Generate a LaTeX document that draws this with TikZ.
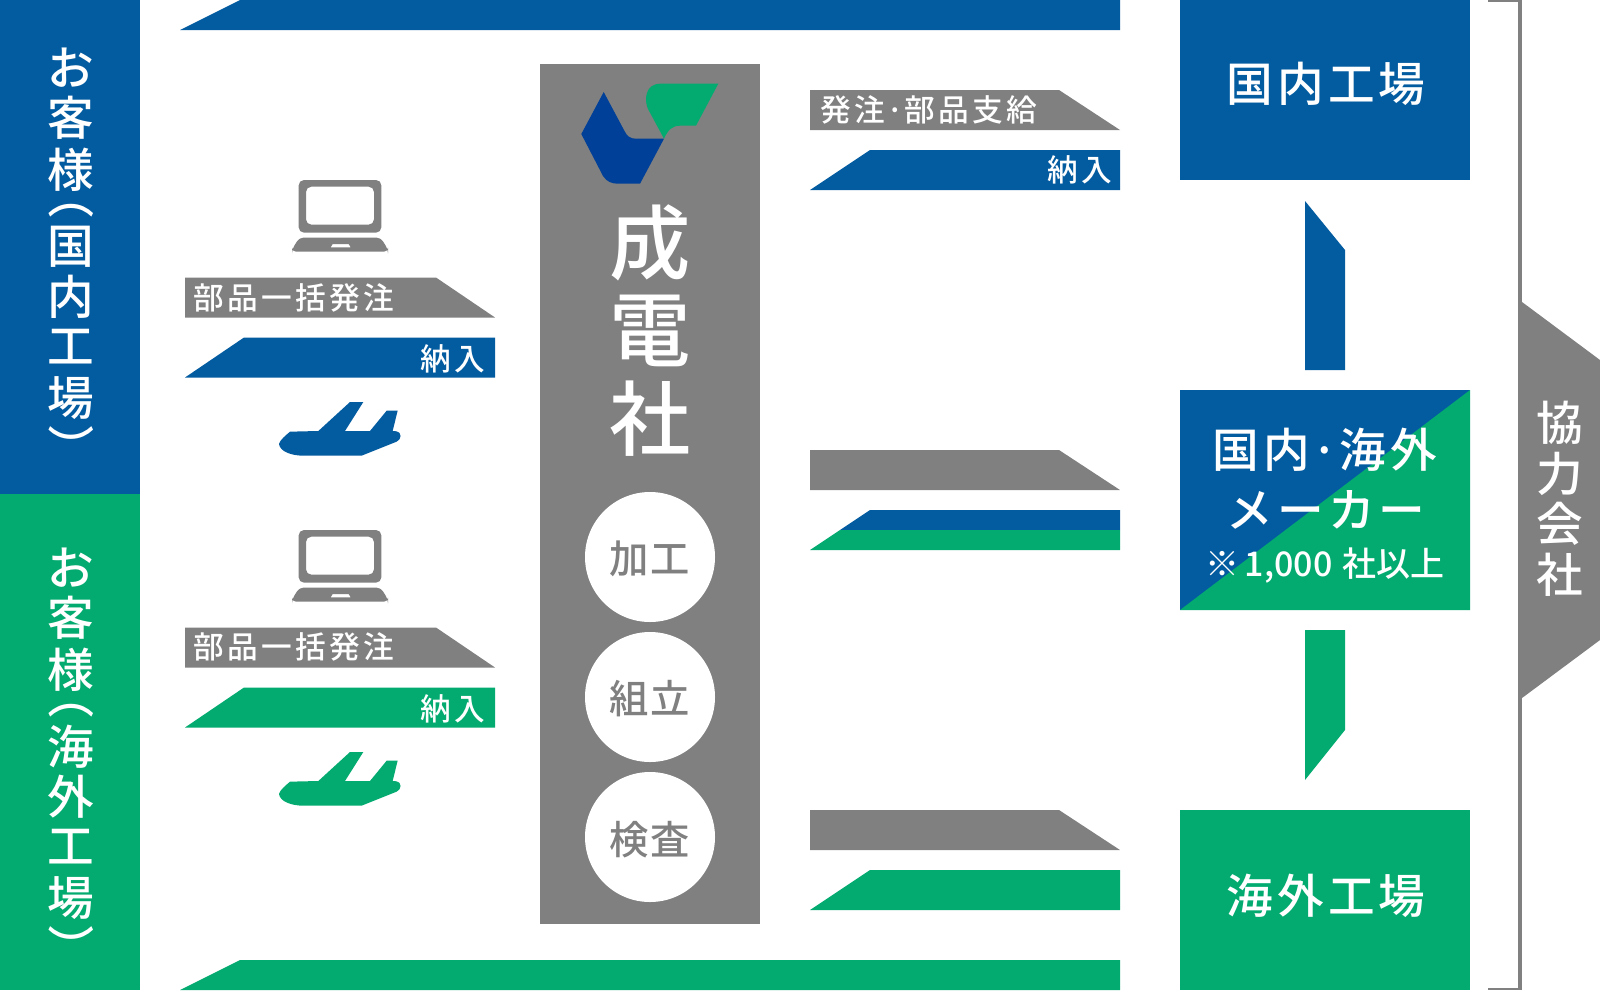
\documentclass[tikz,border=0pt]{standalone}
\usepackage{fontspec}
\setmainfont{Noto Sans CJK JP Medium}
\newfontfamily\jp{Noto Sans CJK JP Medium}
\definecolor{cblue}{HTML}{035BA0}
\definecolor{cgreen}{HTML}{03AB70}
\definecolor{cgrey}{HTML}{808080}
\definecolor{lblue}{HTML}{004098}
\tikzset{
  bluefill/.style={fill=cblue,draw=none},
  greenfill/.style={fill=cgreen,draw=none},
  greyfill/.style={fill=cgrey,draw=none},
  wt/.style={text=white,inner sep=0pt,font=\jp\fontsize{35}{35}\selectfont},
  bigt/.style={text=white,inner sep=0pt,font=\jp\fontsize{61}{61}\selectfont},
  bart/.style={text=white,inner sep=0pt,font=\jp\fontsize{23}{23}\selectfont\addfontfeature{LetterSpace=11}},
  boxt/.style={text=white,inner sep=0pt,font=\jp\fontsize{35}{35}\selectfont\addfontfeature{LetterSpace=9}},
  circt/.style={text=cgrey,inner sep=0pt,font=\jp\fontsize{29.5}{29.5}\selectfont\addfontfeature{LetterSpace=5}},
  proc/.style={circle,fill=white,draw=none,minimum size=97.5pt,inner sep=0pt}
}
\newcommand{\laptop}[2]{%
  \begin{scope}[shift={(#1,#2)},scale=1/3]
    \fill[cgrey,even odd rule,rounded corners=4pt] (386,30) rectangle (634,188) (408,50) rectangle (612,164);
    \fill[cgrey,even odd rule] [rounded corners=3pt] (366,245) -- (366,238) -- (388,203) -- (632,203) -- (654,238) -- (654,245) -- cycle
      [sharp corners] (482,232) -- (488,222) -- (536,222) -- (542,232) -- cycle;
  \end{scope}}
\newcommand{\plane}[3]{%
  \begin{scope}[shift={(#1,#2)},scale=1/3]
    \fill[#3] (327,822) .. controls (330,810) and (345,798) .. (360,785) -- (445,783) -- (540,696) -- (580,696) -- (525,783) -- (600,783) -- (650,722) -- (683,722) -- (668,783) -- (680,784) .. controls (695,786) and (696,808) .. (680,815) -- (575,857) -- (400,857) .. controls (365,857) and (330,845) .. (327,822) -- cycle;
  \end{scope}}
\begin{document}
\begin{tikzpicture}[x=0.75pt,y=-0.75pt]
\useasboundingbox (0,0) rectangle (1600,990);
% left columns
\fill[bluefill] (0,0) rectangle (140,494);
\fill[greenfill] (0,494) rectangle (140,990);
\foreach \c/\y/\n in {お/68/a,客/118/b,様/170/c,国/247/e,内/297/f,工/347/g,場/398/h}
  \node[wt] (bl\n) at (71,\y) {\c};
\node[wt,rotate=-90] (blp) at (71,196) {（};
\node[wt,rotate=-90] (blq) at (71,447.5) {）};
\foreach \c/\y/\n in {お/568/a,客/618/b,様/670/c,海/747/e,外/797/f,工/847/g,場/898/h}
  \node[wt] (gl\n) at (71,\y) {\c};
\node[wt,rotate=-90] (glp) at (71,696) {（};
\node[wt,rotate=-90] (glq) at (71,947.5) {）};
% top and bottom bars
\fill[bluefill] (180,30) -- (240,0) -- (1120,0) -- (1120,30) -- cycle;
\fill[greenfill] (180,990) -- (240,960) -- (1120,960) -- (1120,990) -- cycle;
% left group 1
\laptop{170}{170}
\fill[greyfill] (185,277.5) -- (436,277.5) -- (495,317.5) -- (185,317.5) -- cycle;
\node[bart,anchor=west] (o1) at (193,298) {部品一括発注};
\fill[bluefill] (185,377.5) -- (244,337.5) -- (495,337.5) -- (495,377.5) -- cycle;
\node[bart,anchor=east] (n1) at (485,359) {納入};
\plane{170}{170}{cblue}
% left group 2
\laptop{170}{520}
\fill[greyfill] (185,627.5) -- (436,627.5) -- (495,667.5) -- (185,667.5) -- cycle;
\node[bart,anchor=west] (o2) at (193,647) {部品一括発注};
\fill[greenfill] (185,727.5) -- (244,687.5) -- (495,687.5) -- (495,727.5) -- cycle;
\node[bart,anchor=east] (n2) at (485,709) {納入};
\plane{170}{520}{cgreen}
% centre column
\fill[greyfill] (540,64) rectangle (760,924);
\fill[lblue] (603.7,92) -- (581.3,134) -- (603,176) .. controls (607,182) and (612,183.7) .. (618,183.7) -- (640,183.7) -- (664,138.7) -- (636,138.7) .. controls (630,138.7) and (627,136) .. (624.5,131) -- cycle;
\fill[cgreen] (664,138.7) -- (648,109) .. controls (644,100) and (645,84) .. (660,83.7) -- (718.3,83.7) -- (696,125.7) -- (680,125.7) .. controls (672,125.7) and (668,130) .. cycle;
\node[bigt] (s1) at (650,243) {成};
\node[bigt] (s2) at (650,331) {電};
\node[bigt] (s3) at (650,419) {社};
\node[proc] (c1) at (650,557) {};
\node[proc] (c2) at (650,697) {};
\node[proc] (c3) at (650,837) {};
\node[circt] (ct1) at (650,559) {加工};
\node[circt] (ct2) at (650,699) {組立};
\node[circt] (ct3) at (650,840) {検査};
% right bars
\fill[greyfill] (810,90) -- (1059,90) -- (1120,130) -- (810,130) -- cycle;
\node[bart,anchor=west] (o3) at (820,110) {発注\kern0.8pt·\kern0.8pt部品支給};
\fill[bluefill] (810,190) -- (870,150) -- (1120,150) -- (1120,190) -- cycle;
\node[bart,anchor=east] (n3) at (1112.5,170) {納入};
\fill[greyfill] (810,450) -- (1059,450) -- (1120,490) -- (810,490) -- cycle;
\fill[bluefill] (840,530) -- (870,510) -- (1120,510) -- (1120,530) -- cycle;
\fill[greenfill] (810,550) -- (840,530) -- (1120,530) -- (1120,550) -- cycle;
\fill[greyfill] (810,810) -- (1059,810) -- (1120,850) -- (810,850) -- cycle;
\fill[greenfill] (810,910) -- (870,870) -- (1120,870) -- (1120,910) -- cycle;
% right boxes
\fill[bluefill] (1180,0) rectangle (1470,180);
\node[boxt] (f1) at (1326,84) {国内工場};
\fill[bluefill] (1305,201) -- (1345,250) -- (1345,370) -- (1305,370) -- cycle;
\fill[bluefill] (1180,390) rectangle (1470,610);
\fill[greenfill] (1180,610) -- (1470,390) -- (1470,610) -- cycle;
\node[boxt] (f2) at (1325,450) {国内\kern1pt·\kern1pt海外};
\node[boxt] (f3) at (1326,510) {メーカー};
\node[text=white,inner sep=0pt,font=\jp\fontsize{25.5}{25.5}\selectfont] (f4) at (1325,566) {※\kern-2pt{} 1,000\kern1.5pt{} 社以上};
\fill[greenfill] (1305,630) -- (1345,630) -- (1345,730) -- (1305,780) -- cycle;
\fill[greenfill] (1180,810) rectangle (1470,990);
\node[boxt] (f5) at (1326,896) {海外工場};
% bracket and partner arrow
\fill[greyfill] (1488,0) rectangle (1522,2);
\fill[greyfill] (1488,988) rectangle (1522,990);
\fill[greyfill] (1518,0) rectangle (1522,990);
\fill[greyfill] (1518,299) -- (1600,360) -- (1600,640) -- (1518,701) -- cycle;
\foreach \c/\y/\n in {協/423/a,力/474/b,会/524/c,社/575/d}
  \node[wt] (p\n) at (1560,\y) {\c};
\end{tikzpicture}
\end{document}
